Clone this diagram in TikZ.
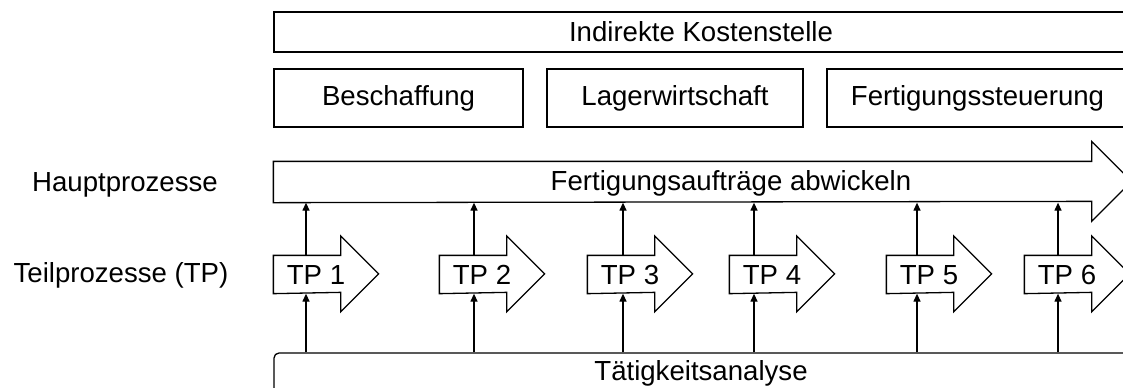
\documentclass[tikz,border=0pt]{standalone}
\usepackage{fontspec}
\setmainfont{Liberation Sans}
\usetikzlibrary{arrows.meta}
\tikzset{
  box/.style={draw, line width=0.65pt, inner sep=0pt},
  body/.style={inner sep=0pt},
  pfeil/.style={-{Triangle[length=4pt,width=3.5pt]}, line width=0.65pt},
}
\begin{document}
\begin{tikzpicture}[x=0.5pt,y=-0.5pt,line width=0.65pt,
    every node/.style={font=\fontsize{13.8}{16}\selectfont}]
    \useasboundingbox (0,0) rectangle (1123,387);
    \clip (0,0) rectangle (1123,387);
    % Kostenstellen
    \node[box, minimum width=427pt, minimum height=20pt] (kst) at (701,32) {Indirekte Kostenstelle};
    \node[box, minimum width=124.5pt, minimum height=29pt] (besch) at (398.5,98) {Beschaffung};
    \node[box, minimum width=128pt, minimum height=29pt] (lager) at (675,98) {Lagerwirtschaft};
    \node[box, minimum width=150.5pt, minimum height=29pt] (fsteu) at (977.5,98) {Fertigungssteuerung};
    % Beschriftung links
    \node (hplabel) at (125,185) {Hauptprozesse};
    \node (tplabel) at (121,275) {Teilprozesse (TP)};
    % Hauptprozess
    \node[body, minimum width=408.5pt, minimum height=20pt] (hp) at (682.5,182) {};
    \draw (hp.north west) -- (hp.north east) -- ++(0,-20) -- ++(40,40) -- ++(-40,40) -- ++(0,-20) -- (hp.south west) -- cycle;
    \node (hptext) at (731,183) {Fertigungsaufträge abwickeln};
    % Taetigkeitsanalyse
    \node[box, rounded corners=2.5pt, minimum width=427pt, minimum height=20pt] (ana) at (701,373) {Tätigkeitsanalyse};
    % Teilprozesse
    \foreach \n/\x/\a in {1/274/306, 2/440/474, 3/588/623, 4/730/754, 5/887/917, 6/1025/1058} {
        \node[body, minimum width=33pt, minimum height=18.5pt] (tp\n) at (\x+33,274.5) {};
        \draw (tp\n.north west) -- (tp\n.north east) -- ++(0,-19.5) -- ++(38,38) -- ++(-38,38) -- ++(0,-19.5) -- (tp\n.south west) -- cycle;
        \node (tptext\n) at (\x+42,275) {TP \n};
        \coordinate (a\n) at (\a,0);
        \draw[pfeil] (ana.north -| a\n) -- (tp\n.south -| a\n);
        \draw[pfeil] (tp\n.north -| a\n) -- (hp.south -| a\n);
    }
\end{tikzpicture}
\end{document}
